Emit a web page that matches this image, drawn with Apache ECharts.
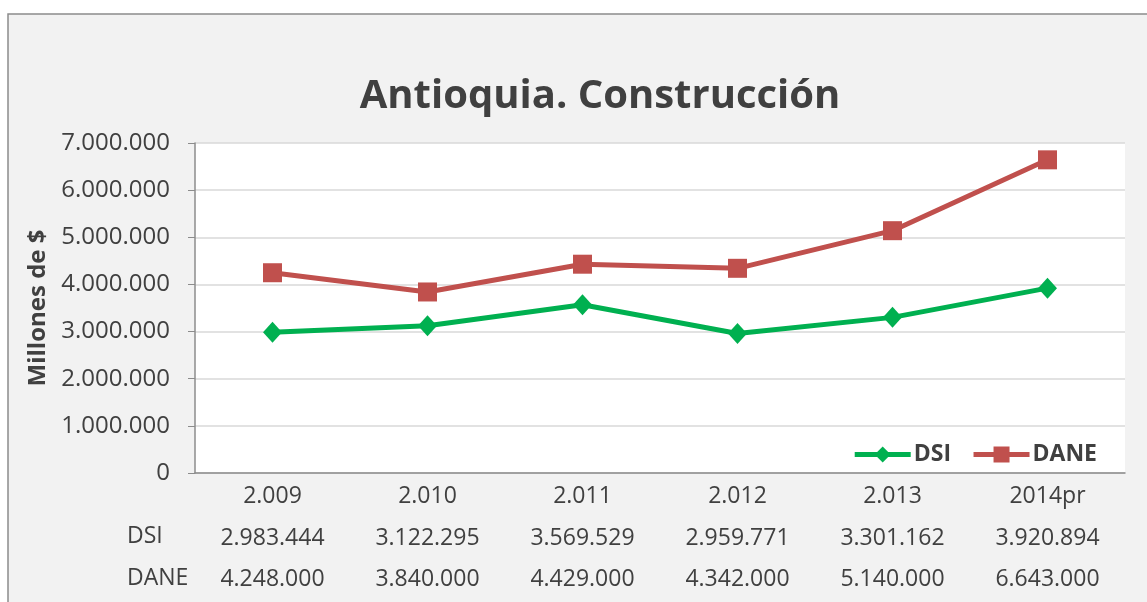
<!DOCTYPE html>
<html>
<head>
<meta charset="utf-8">
<script src="https://cdn.jsdelivr.net/npm/echarts@6/dist/echarts.min.js"></script>
<style>
  html, body { margin: 0; padding: 0; background: #ffffff; }
  #chart { width: 1147px; height: 602px; }
</style>
</head>
<body>
<div id="chart"></div>
<script>
const categories = ['2.009', '2.010', '2.011', '2.012', '2.013', '2014pr'];
const dsi = [2983444, 3122295, 3569529, 2959771, 3301162, 3920894];
const dane = [4248000, 3840000, 4429000, 4342000, 5140000, 6643000];
const yTicks = [0, 1000000, 2000000, 3000000, 4000000, 5000000, 6000000, 7000000];

const fmt = (v) => String(v).replace(/\B(?=(\d{3})+(?!\d))/g, '.');
const font = '"Open Sans", "Noto Sans", sans-serif';

const chart = echarts.init(document.getElementById('chart'));
chart.setOption({
  animation: false,
  backgroundColor: '#ffffff',
  graphic: [
    {
      type: 'rect',
      z: -10,
      shape: { x: 8, y: 14, width: 1160, height: 600 },
      style: { fill: '#f2f2f2', stroke: '#8c8c8c', lineWidth: 1.5 }
    },
    {
      type: 'text',
      left: 127, top: 525,
      style: { text: 'DSI', font: '23px ' + font, fill: '#404040' }
    },
    {
      type: 'text',
      left: 127, top: 567,
      style: { text: 'DANE', font: '23px ' + font, fill: '#404040' }
    }
  ],
  title: {
    text: 'Antioquia. Construcción',
    left: 595,
    textAlign: 'center',
    top: 72,
    textStyle: { fontFamily: font, fontSize: 40, fontWeight: 'bold', color: '#404040' }
  },
  legend: {
    right: 45,
    top: 438,
    itemWidth: 56,
    itemHeight: 20,
    itemGap: 20,
    lineStyle: { width: 5 },
    textStyle: { fontFamily: font, fontSize: 23, fontWeight: 'bold', color: '#404040', padding: [0, 0, 0, -2] },
    data: ['DSI', 'DANE']
  },
  grid: {
    left: 195, right: 22, top: 143, bottom: 129,
    outerBoundsMode: 'none',
    backgroundColor: '#ffffff', show: true, borderWidth: 0
  },
  xAxis: {
    type: 'category',
    data: categories,
    boundaryGap: true,
    axisLine: { lineStyle: { color: '#8c8c8c', width: 1.5 } },
    axisTick: { show: false },
    axisLabel: {
      interval: 0,
      margin: 3,
      fontFamily: font,
      fontSize: 23,
      lineHeight: 41.5,
      color: '#404040',
      formatter: (val, i) => val + '\n' + fmt(dsi[i]) + '\n' + fmt(dane[i])
    }
  },
  yAxis: {
    type: 'value',
    min: yTicks[0],
    max: yTicks[yTicks.length - 1],
    interval: 1000000,
    name: 'Millones de $',
    nameLocation: 'middle',
    nameRotate: 90,
    nameGap: 140,
    nameTextStyle: { fontFamily: font, fontSize: 24, fontWeight: 'bold', color: '#404040' },
    axisLine: { show: true, lineStyle: { color: '#8c8c8c', width: 1.5 } },
    axisTick: { show: true, length: 7, lineStyle: { color: '#8c8c8c' } },
    splitLine: { lineStyle: { color: '#d9d9d9', width: 1.5 } },
    axisLabel: {
      margin: 25,
      fontFamily: font,
      fontSize: 24,
      color: '#404040',
      formatter: (v) => fmt(v)
    }
  },
  series: [
    {
      name: 'DSI',
      type: 'line',
      data: dsi,
      symbol: 'diamond',
      symbolSize: [19, 21],
      lineStyle: { color: '#00b050', width: 5 },
      itemStyle: { color: '#00b050' }
    },
    {
      name: 'DANE',
      type: 'line',
      data: dane,
      symbol: 'rect',
      symbolSize: 19,
      lineStyle: { color: '#c0504d', width: 5 },
      itemStyle: { color: '#c0504d' }
    }
  ]
});
</script>
</body>
</html>
